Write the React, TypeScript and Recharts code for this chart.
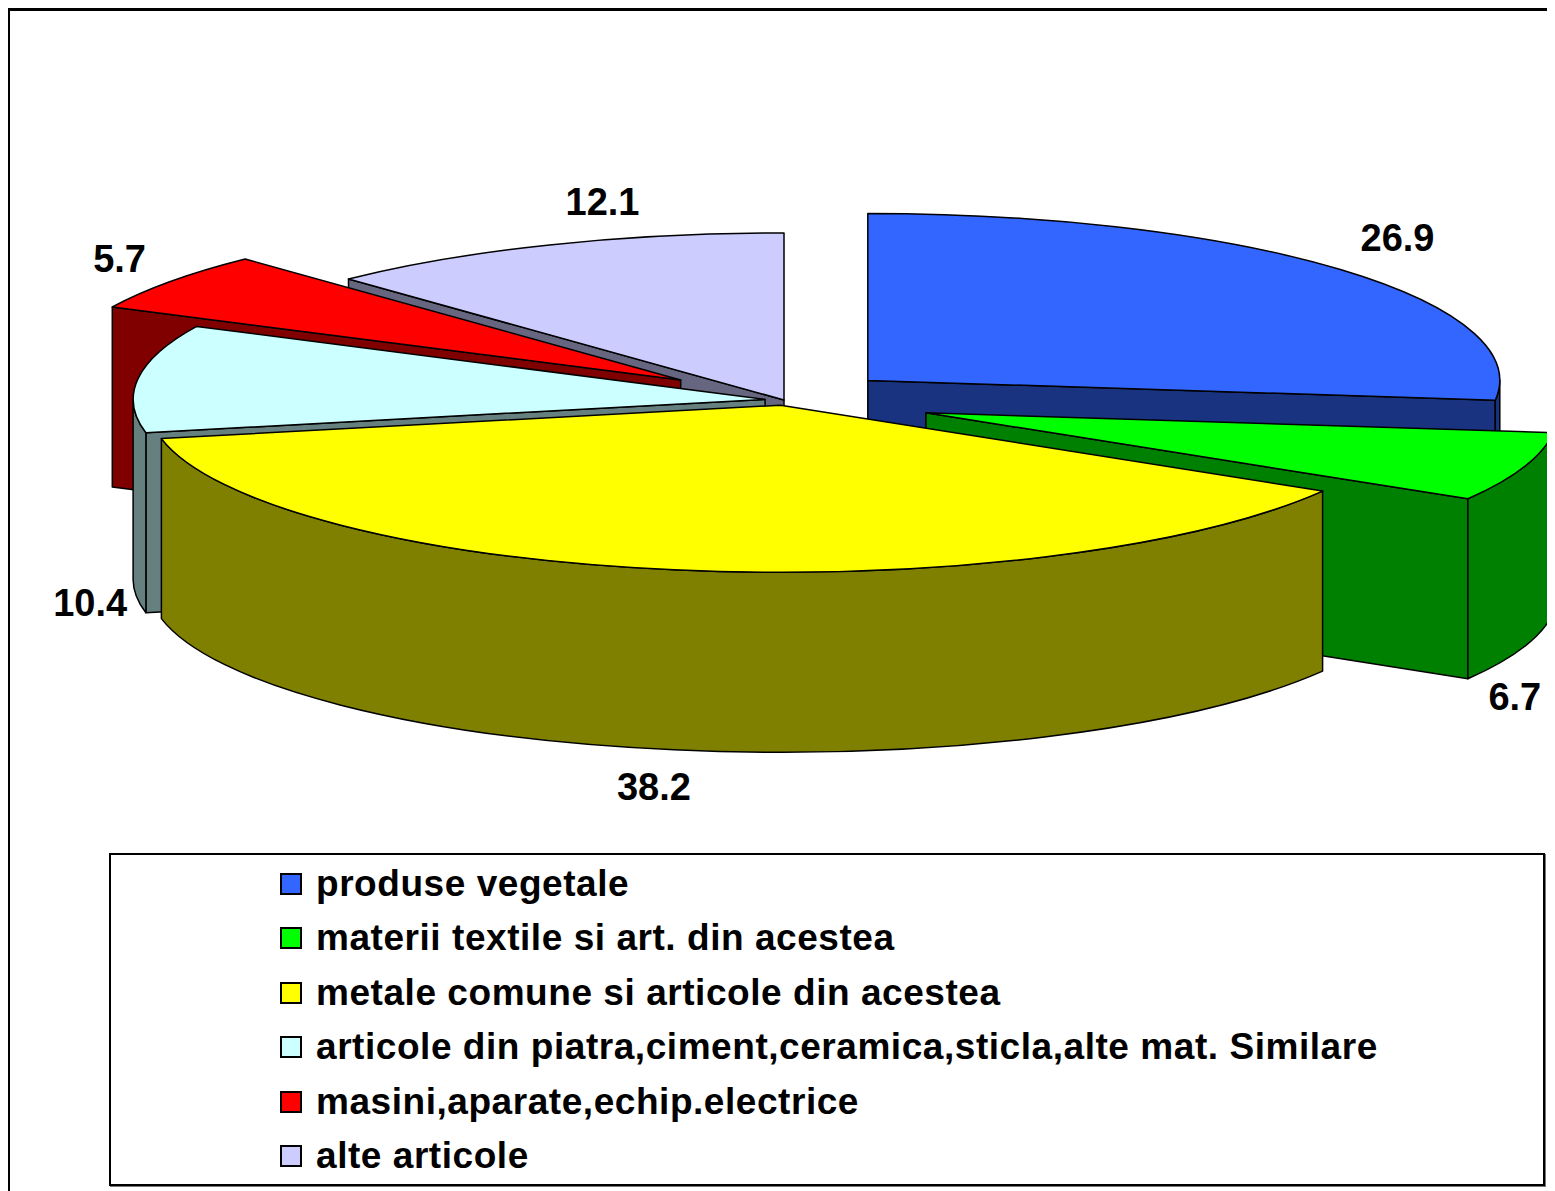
import React from "react";
import { PieChart, Pie, Legend } from "recharts";

const categories = [
  "produse vegetale",
  "materii textile si art. din acestea",
  "metale comune si articole din acestea",
  "articole din piatra,ciment,ceramica,sticla,alte mat. Similare",
  "masini,aparate,echip.electrice",
  "alte articole",
];
const shares = [26.9, 6.7, 38.2, 10.4, 5.7, 12.1];
const shareLabels = ["26.9", "6.7", "38.2", "10.4", "5.7", "12.1"];

const data = categories.map((name, i) => ({ name, value: shares[i] }));

// look of the 3d slices
const topColors = ["#3366FF", "#00FF00", "#FFFF00", "#CCFFFF", "#FF0000", "#CCCCFF"];
const sideColors = ["#1A3380", "#008000", "#808000", "#668080", "#800000", "#666680"];
const explode = [112, 150, 20, 19, 128, 0];
const drawOrder = [5, 0, 4, 3, 1, 2]; // back to front
const labelNudge = [
  [57, -32],
  [-9, 50],
  [-20, 37],
  [-48, 45],
  [-51, -22],
  [53, -43],
];

const RX = 632;
const RY = 167;
const DEPTH = 180;
const FONT = "'Liberation Sans', Arial, sans-serif";

const rad = (a: number) => (a * Math.PI) / 180;
const rim = (x0: number, y0: number, a: number) => [x0 + RX * Math.cos(rad(a)), y0 - RY * Math.sin(rad(a))];
const xy = (p: number[], dy = 0) => `${p[0].toFixed(1)},${(p[1] + dy).toFixed(1)}`;

function apex(cx: number, cy: number, mid: number, i: number) {
  const e = explode[i];
  return [cx + e * Math.cos(rad(mid)), cy - e * (RY / RX) * Math.sin(rad(mid))];
}

const sliceRenderer = (k: number) => (p: any) => {
  if (p.index !== k) return null;
  const i = p.index;
  const [ox, oy] = apex(p.cx, p.cy, p.midAngle, i);
  const a0 = Math.max(p.startAngle, p.endAngle);
  const a1 = Math.min(p.startAngle, p.endAngle);
  const p0 = rim(ox, oy, a0);
  const p1 = rim(ox, oy, a1);
  const c = [ox, oy];
  const large = a0 - a1 > 180 ? 1 : 0;
  const line = { stroke: "#000", strokeWidth: 1.5, strokeLinejoin: "round" as const };
  const parts: React.ReactNode[] = [];

  if (Math.cos(rad(a1)) > 0.001) {
    parts.push(
      <path key="f1" d={`M${xy(c)} L${xy(p1)} L${xy(p1, DEPTH)} L${xy(c, DEPTH)} Z`} fill={sideColors[i]} {...line} />
    );
  }
  if (Math.cos(rad(a0)) < -0.001) {
    parts.push(
      <path key="f0" d={`M${xy(c)} L${xy(p0)} L${xy(p0, DEPTH)} L${xy(c, DEPTH)} Z`} fill={sideColors[i]} {...line} />
    );
  }
  const lo = Math.max(a1, -180);
  const hi = Math.min(a0, 0);
  if (hi > lo) {
    const w0 = rim(ox, oy, hi);
    const w1 = rim(ox, oy, lo);
    const wl = hi - lo > 180 ? 1 : 0;
    parts.push(
      <path
        key="w"
        d={`M${xy(w0)} A${RX},${RY} 0 ${wl} 1 ${xy(w1)} L${xy(w1, DEPTH)} A${RX},${RY} 0 ${wl} 0 ${xy(w0, DEPTH)} Z`}
        fill={sideColors[i]}
        {...line}
      />
    );
  }
  parts.push(
    <path key="t" d={`M${xy(c)} L${xy(p0)} A${RX},${RY} 0 ${large} 1 ${xy(p1)} Z`} fill={topColors[i]} {...line} />
  );
  return <g key={`slice-${i}`}>{parts}</g>;
};

const valueLabel = (p: any) => {
  const i = p.index;
  const [ox, oy] = apex(p.cx, p.cy, p.midAngle, i);
  const r = rim(ox, oy, p.midAngle);
  const down = Math.sin(rad(p.midAngle)) < 0.2 ? DEPTH : 0;
  return (
    <text
      key={`lbl-${i}`}
      x={r[0] + labelNudge[i][0]}
      y={r[1] + down + labelNudge[i][1]}
      textAnchor="middle"
      dominantBaseline="central"
      fontFamily={FONT}
      fontWeight="bold"
      fontSize={38}
      fill="#000"
    >
      {shareLabels[i]}
    </text>
  );
};

function LegendBox() {
  return (
    <div
      style={{
        width: 1436,
        height: 333,
        boxSizing: "border-box",
        border: "2px solid #000",
        boxShadow: "1px 1px 0 #777",
        background: "#fff",
        position: "relative",
        fontFamily: FONT,
      }}
    >
      {categories.map((name, i) => (
        <div
          key={name}
          style={{
            position: "absolute",
            left: 169,
            top: 29 + i * 54.4 - 20,
            height: 40,
            display: "flex",
            alignItems: "center",
            whiteSpace: "nowrap",
          }}
        >
          <span
            style={{
              width: 22,
              height: 22,
              boxSizing: "border-box",
              border: "2px solid #000",
              background: topColors[i],
              display: "inline-block",
              marginRight: 14,
            }}
          />
          <span style={{ fontSize: 37, fontWeight: "bold", letterSpacing: 0.55, color: "#000" }}>{name}</span>
        </div>
      ))}
    </div>
  );
}

export default function App() {
  return (
    <div style={{ position: "relative", width: 1547, height: 1183, fontFamily: FONT }}>
      <div
        style={{
          position: "absolute",
          left: -1,
          top: 0,
          width: 1548,
          height: 1183,
          boxSizing: "border-box",
          borderLeft: "3px solid #000",
          borderTop: "3px solid #000",
          pointerEvents: "none",
          zIndex: 2,
        }}
      />
      <PieChart width={1547} height={1183} margin={{ top: 0, right: 0, bottom: 0, left: 0 }}>
        {drawOrder.map((k) => (
          <Pie
            key={`pie-${k}`}
            data={data}
            dataKey="value"
            nameKey="name"
            cx={776}
            cy={392}
            outerRadius={RX}
            startAngle={90}
            endAngle={-270}
            fill="transparent"
            stroke="none"
            label={sliceRenderer(k)}
            labelLine={false}
            legendType="none"
            isAnimationActive={false}
          />
        ))}
        <Pie
          data={data}
          dataKey="value"
          nameKey="name"
          cx={776}
          cy={392}
          outerRadius={RX}
          startAngle={90}
          endAngle={-270}
          fill="transparent"
          stroke="none"
          label={valueLabel}
          labelLine={false}
          legendType="none"
          isAnimationActive={false}
        />
        <Legend
          verticalAlign="bottom"
          content={() => <LegendBox />}
          wrapperStyle={{ position: "absolute", left: 101, top: 845, width: 1436, height: 333 }}
        />
      </PieChart>
    </div>
  );
}
